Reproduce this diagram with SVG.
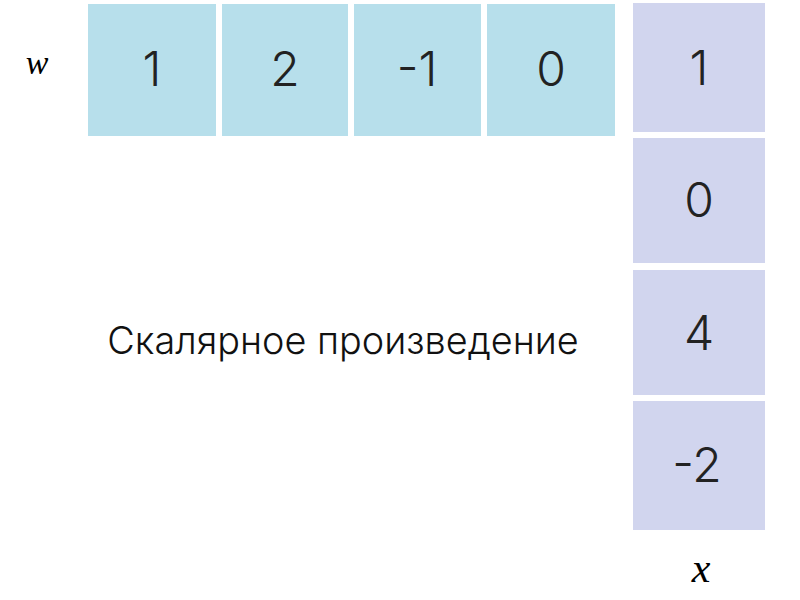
<svg xmlns="http://www.w3.org/2000/svg" width="800" height="600" viewBox="0 0 800 600">
<style>
.w{fill:#b7dfeb}
.x{fill:#d1d5ee}
.n{font-family:Inter,"Noto Sans",sans-serif;font-weight:300;font-size:48px;fill:#222;text-anchor:middle}
.lbl{font-family:"Liberation Serif",serif;font-style:italic;font-size:34px;fill:#000;text-anchor:middle}
.t{font-family:Inter,"Noto Sans",sans-serif;font-weight:300;font-size:37.8px;fill:#111;text-anchor:middle}
</style>
<rect width="800" height="600" fill="#fff"/>
<text class="lbl" x="37" y="74">w</text>
<g id="w1"><rect class="w" x="88" y="4" width="128" height="132"/><text class="n" x="152" y="86">1</text></g>
<g id="w2"><rect class="w" x="222" y="4" width="126" height="132"/><text class="n" x="285" y="86">2</text></g>
<g id="w3"><rect class="w" x="354" y="4" width="127" height="132"/><text class="n" x="417" y="86">-1</text></g>
<g id="w4"><rect class="w" x="487" y="4" width="128" height="132"/><text class="n" x="551" y="86">0</text></g>
<g id="x1"><rect class="x" x="633" y="3" width="132" height="129"/><text class="n" x="699" y="85">1</text></g>
<g id="x2"><rect class="x" x="633" y="138" width="132" height="125"/><text class="n" x="699" y="217">0</text></g>
<g id="x3"><rect class="x" x="633" y="270" width="132" height="125"/><text class="n" x="699" y="350">4</text></g>
<g id="x4"><rect class="x" x="633" y="401" width="132" height="129"/><text class="n" x="697" y="482">-2</text></g>
<text class="lbl" x="701" y="582" style="font-size:42px">x</text>
<g id="label"><text class="t" x="343" y="354">Скалярное произведение</text></g>
</svg>
